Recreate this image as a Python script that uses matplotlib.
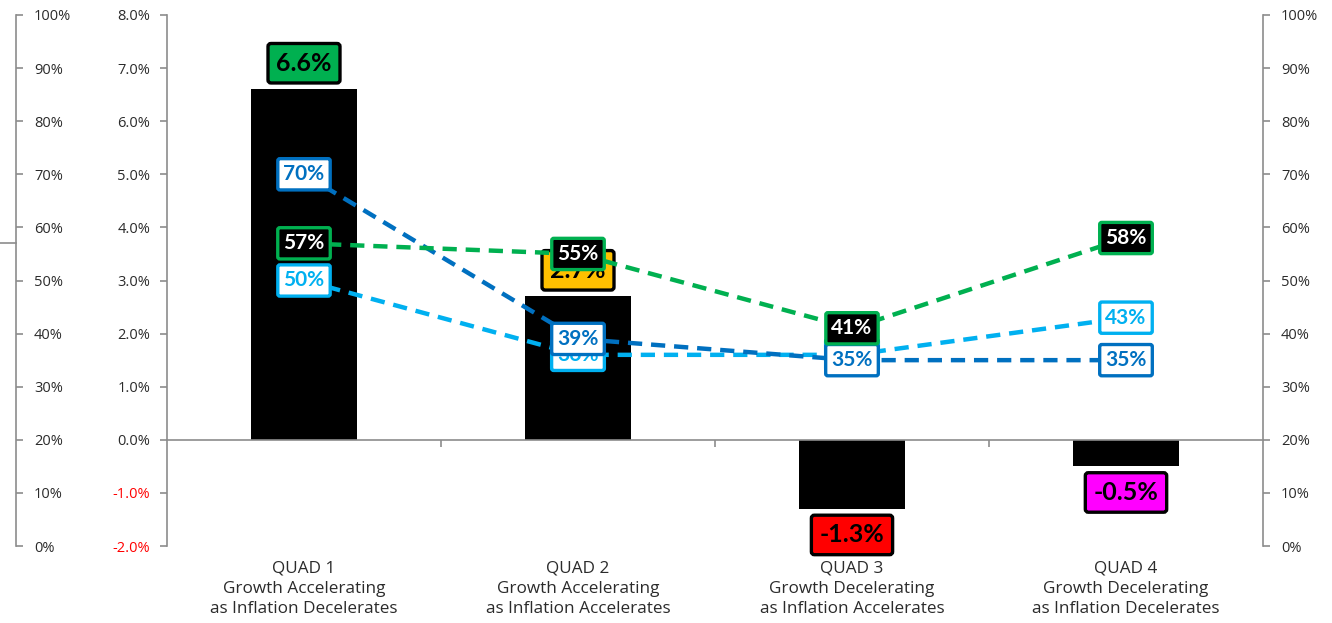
import matplotlib
matplotlib.use("Agg")
import matplotlib.pyplot as plt
from matplotlib.lines import Line2D
from matplotlib.transforms import blended_transform_factory

# ---- data -------------------------------------------------------------
quad_labels = [
    "QUAD 1\nGrowth Accelerating\nas Inflation Decelerates",
    "QUAD 2\nGrowth Accelerating\nas Inflation Accelerates",
    "QUAD 3\nGrowth Decelerating\nas Inflation Accelerates",
    "QUAD 4\nGrowth Decelerating\nas Inflation Decelerates",
]
avg_return = [6.6, 2.7, -1.3, -0.5]          # bars, left inner axis (%)
bar_box_colors = ["#00B050", "#FFC000", "#FF0000", "#FF00FF"]

hit_rate_green = [57, 55, 41, 58]            # lines, 0-100% axes
hit_rate_dark_blue = [70, 39, 35, 35]
hit_rate_light_blue = [50, 36, 36, 43]

main_ticks = [-2, -1, 0, 1, 2, 3, 4, 5, 6, 7, 8]
share_ticks = [0, 10, 20, 30, 40, 50, 60, 70, 80, 90, 100]

# ---- style ------------------------------------------------------------
GREEN = "#00B050"
DARK_BLUE = "#0070C0"
LIGHT_BLUE = "#00B0F0"
AXIS_GREY = "#8C8C8C"
TEXT = "#2B2B2B"
TICK_FONT = "Open Sans"
BOX_FONT = "Lato"
CAT_FONT = "Open Sans"

W, H = 1332, 623
fig = plt.figure(figsize=(W / 100, H / 100), dpi=100)
ax = fig.add_axes([167 / W, 1 - 546 / H, (1263 - 167) / W, (546 - 15) / H])

x = list(range(len(quad_labels)))

# bars
ax.bar(x, avg_return, width=0.39, color="black", zorder=2)
ax.set_xlim(-0.5, 3.5)
ax.set_ylim(-2, 8)

# main (inner-left) axis
ax.set_yticks(main_ticks)
ax.set_yticklabels([f"{v:.1f}%" for v in main_ticks], fontfamily=TICK_FONT, fontsize=10.5)
for v, lab in zip(main_ticks, ax.get_yticklabels()):
    lab.set_color("#FF0000" if v < 0 else TEXT)
ax.tick_params(axis="y", direction="out", length=5, width=1.2, color=AXIS_GREY, pad=7)

for s in ("top", "right"):
    ax.spines[s].set_visible(False)
ax.spines["left"].set_color(AXIS_GREY)
ax.spines["left"].set_linewidth(1.2)
ax.spines["bottom"].set_position(("data", 0))
ax.spines["bottom"].set_color(AXIS_GREY)
ax.spines["bottom"].set_linewidth(1.2)

ax.set_xticks(x)
ax.set_xticklabels([])
ax.tick_params(axis="x", which="major", length=0)
ax.set_xticks([0.5, 1.5, 2.5], minor=True)
ax.tick_params(axis="x", which="minor", direction="out", length=5, width=1.2, color=AXIS_GREY)

# category captions along the bottom of the plot area
trans = blended_transform_factory(ax.transData, ax.transAxes)
for xi, lab in zip(x, quad_labels):
    ax.text(xi, -0.028, lab, transform=trans, ha="center", va="top",
            fontsize=12.3, fontfamily=CAT_FONT, color=TEXT, linespacing=1.32)

# bar value boxes
for xi, v, fc in zip(x, avg_return, bar_box_colors):
    off = 18.8 if v > 0 else -18.8
    ax.annotate(f"{v:.1f}%", xy=(xi, v), xytext=(0, off), textcoords="offset points",
                ha="center", va="center", fontsize=18, fontweight="bold",
                fontfamily=BOX_FONT, color="black", zorder=4,
                bbox=dict(boxstyle="round,pad=0.33,rounding_size=0.12",
                          fc=fc, ec="black", lw=2.4))


def share_axis(position):
    a = ax.twinx()
    a.set_ylim(0, 100)
    for s in ("left", "top", "bottom"):
        a.spines[s].set_visible(False)
    a.spines["right"].set_position(("axes", position))
    a.spines["right"].set_color(AXIS_GREY)
    a.spines["right"].set_linewidth(1.2)
    a.set_yticks(share_ticks)
    a.set_yticklabels([f"{v}%" for v in share_ticks], fontfamily=TICK_FONT,
                      fontsize=10.5, color=TEXT)
    a.tick_params(axis="y", direction="out", length=5, width=1.2, color=AXIS_GREY, pad=8)
    return a


ax_outer = share_axis((16 - 167) / (1263 - 167))
ax_share = share_axis(1.0)

# hit-rate lines with labelled points
series = [
    (hit_rate_light_blue, LIGHT_BLUE, "white", LIGHT_BLUE),
    (hit_rate_dark_blue, DARK_BLUE, "white", DARK_BLUE),
    (hit_rate_green, GREEN, "black", "white"),
]
for vals, col, face, txt in series:
    ax_share.plot(x, vals, color=col, lw=3.2, ls=(0, (3.2, 2.0)), zorder=2)
for i, (vals, col, face, txt) in enumerate(series):
    for xi, v in zip(x, vals):
        ax_share.annotate(f"{v}%", xy=(xi, v), ha="center", va="center",
                          fontsize=15, fontweight="bold", fontfamily=BOX_FONT,
                          color=txt, zorder=5 + i,
                          bbox=dict(boxstyle="round,pad=0.27,rounding_size=0.1",
                                    fc=face, ec=col, lw=2.4))

# short stub at the far left edge
fig.add_artist(Line2D([0, 16 / W], [1 - 243 / H] * 2, color=AXIS_GREY, lw=1.2))

fig.savefig("out.png", dpi=100)
